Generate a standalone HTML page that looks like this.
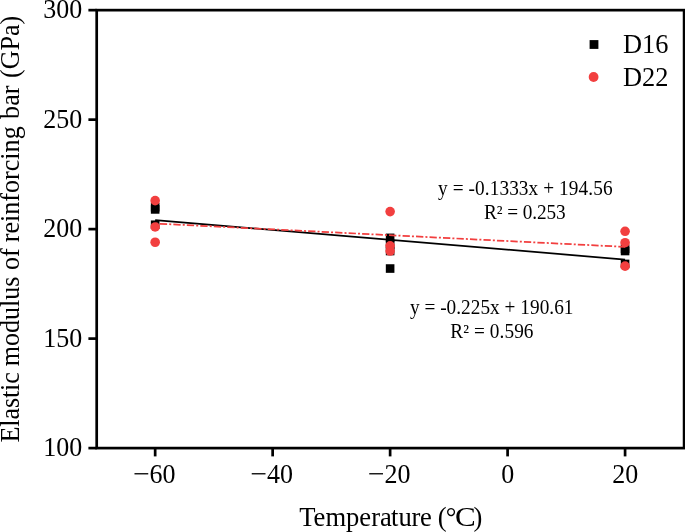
<!DOCTYPE html>
<html><head><meta charset="utf-8"><title>Elastic modulus of reinforcing bar</title>
<style>html,body{margin:0;padding:0;background:#fff;}body{width:685px;height:532px;overflow:hidden;}svg{display:block;will-change:transform;}text{font-family:"Liberation Serif","Times New Roman",serif;fill:#000;}</style></head><body>
<svg width="685" height="532" viewBox="0 0 685 532">
<rect width="685" height="532" fill="#fff"/>
<line x1="88.40" y1="448.10" x2="96.70" y2="448.10" stroke="#000" stroke-width="2.7"/>
<text transform="translate(82.30,456.00) scale(1,1.045)" font-size="26" text-anchor="end">100</text>
<line x1="88.40" y1="338.61" x2="96.70" y2="338.61" stroke="#000" stroke-width="2.7"/>
<text transform="translate(82.30,346.51) scale(1,1.045)" font-size="26" text-anchor="end">150</text>
<line x1="88.40" y1="229.12" x2="96.70" y2="229.12" stroke="#000" stroke-width="2.7"/>
<text transform="translate(82.30,237.03) scale(1,1.045)" font-size="26" text-anchor="end">200</text>
<line x1="88.40" y1="119.64" x2="96.70" y2="119.64" stroke="#000" stroke-width="2.7"/>
<text transform="translate(82.30,127.54) scale(1,1.045)" font-size="26" text-anchor="end">250</text>
<line x1="88.40" y1="10.15" x2="96.70" y2="10.15" stroke="#000" stroke-width="2.7"/>
<text transform="translate(82.30,18.05) scale(1,1.045)" font-size="26" text-anchor="end">300</text>
<line x1="155.16" y1="448.1" x2="155.16" y2="456.40" stroke="#000" stroke-width="2.7"/>
<text transform="translate(132.88,482.70) scale(1,1.045)" font-size="26"><tspan textLength="16.71" lengthAdjust="spacingAndGlyphs">−</tspan>60</text>
<line x1="272.64" y1="448.1" x2="272.64" y2="456.40" stroke="#000" stroke-width="2.7"/>
<text transform="translate(250.36,482.70) scale(1,1.045)" font-size="26"><tspan textLength="16.71" lengthAdjust="spacingAndGlyphs">−</tspan>40</text>
<line x1="390.12" y1="448.1" x2="390.12" y2="456.40" stroke="#000" stroke-width="2.7"/>
<text transform="translate(367.84,482.70) scale(1,1.045)" font-size="26"><tspan textLength="16.71" lengthAdjust="spacingAndGlyphs">−</tspan>20</text>
<line x1="507.60" y1="448.1" x2="507.60" y2="456.40" stroke="#000" stroke-width="2.7"/>
<text transform="translate(507.70,482.70) scale(1,1.045)" font-size="26" text-anchor="middle">0</text>
<line x1="625.08" y1="448.1" x2="625.08" y2="456.40" stroke="#000" stroke-width="2.7"/>
<text transform="translate(625.18,482.70) scale(1,1.045)" font-size="26" text-anchor="middle">20</text>
<rect x="96.7" y="10.15" width="587.40" height="437.95" fill="none" stroke="#000" stroke-width="2.7"/>
<line x1="155.16" y1="220.13" x2="625.08" y2="259.54" stroke="#000" stroke-width="1.7"/>
<rect x="150.86" y="202.93" width="8.6" height="8.6" fill="#000"/>
<rect x="150.86" y="205.12" width="8.6" height="8.6" fill="#000"/>
<rect x="150.86" y="220.45" width="8.6" height="8.6" fill="#000"/>
<rect x="385.82" y="233.58" width="8.6" height="8.6" fill="#000"/>
<rect x="385.82" y="240.15" width="8.6" height="8.6" fill="#000"/>
<rect x="385.82" y="246.72" width="8.6" height="8.6" fill="#000"/>
<rect x="385.82" y="264.24" width="8.6" height="8.6" fill="#000"/>
<rect x="620.78" y="244.53" width="8.6" height="8.6" fill="#000"/>
<rect x="620.78" y="246.72" width="8.6" height="8.6" fill="#000"/>
<rect x="620.78" y="259.64" width="8.6" height="8.6" fill="#000"/>
<line x1="155.16" y1="223.52" x2="625.08" y2="246.88" stroke="#f23f3f" stroke-width="1.75" stroke-dasharray="7.3 2.1 2.0 2.1" stroke-dashoffset="8.8"/>
<circle cx="155.16" cy="200.66" r="4.8" fill="#f23f3f"/>
<circle cx="155.16" cy="226.94" r="4.8" fill="#f23f3f"/>
<circle cx="155.16" cy="242.26" r="4.8" fill="#f23f3f"/>
<circle cx="390.12" cy="211.61" r="4.8" fill="#f23f3f"/>
<circle cx="390.12" cy="245.77" r="4.8" fill="#f23f3f"/>
<circle cx="390.12" cy="251.02" r="4.8" fill="#f23f3f"/>
<circle cx="625.08" cy="231.31" r="4.8" fill="#f23f3f"/>
<circle cx="625.08" cy="242.70" r="4.8" fill="#f23f3f"/>
<circle cx="625.08" cy="266.13" r="4.8" fill="#f23f3f"/>
<rect x="589.60" y="40.10" width="8.8" height="8.8" fill="#000"/>
<circle cx="593.6" cy="77.0" r="4.9" fill="#f23f3f"/>
<text transform="translate(623.00,53.30) scale(1,1.035)" font-size="26.4">D16</text>
<text transform="translate(623.00,86.10) scale(1,1.035)" font-size="26.4">D22</text>
<text transform="translate(438.00,195.30) scale(1,1.045)" font-size="19.3" textLength="174.6">y = -0.1333x + 194.56</text>
<text transform="translate(484.00,218.80) scale(1,1.045)" font-size="19.3" textLength="81.6">R² = 0.253</text>
<text transform="translate(409.90,313.80) scale(1,1.045)" font-size="19.3" textLength="163.6">y = -0.225x + 190.61</text>
<text transform="translate(450.30,338.00) scale(1,1.045)" font-size="19.3" textLength="83.2">R² = 0.596</text>
<text transform="translate(299.20,525.60) scale(1,1.045)" font-size="26.6">Tempera<tspan dx="-0.7">tu</tspan><tspan dx="-0.4">r</tspan><tspan dx="-0.3">e</tspan> <tspan dx="-0.7">(</tspan><tspan dx="-0.7">°</tspan><tspan x="155.7" textLength="20.76" lengthAdjust="spacingAndGlyphs">C</tspan><tspan x="174.4">)</tspan></text>
<text transform="translate(19.40,229.10) rotate(-90) scale(1,1.03)" font-size="26.1" text-anchor="middle"><tspan letter-spacing="-0.13">Elastic</tspan><tspan dx="-0.5"> modulus of</tspan><tspan dx="-0.5"> reinforcing</tspan><tspan dx="0.9"> bar</tspan><tspan dx="1.0"> (GPa)</tspan></text>
</svg></body></html>
